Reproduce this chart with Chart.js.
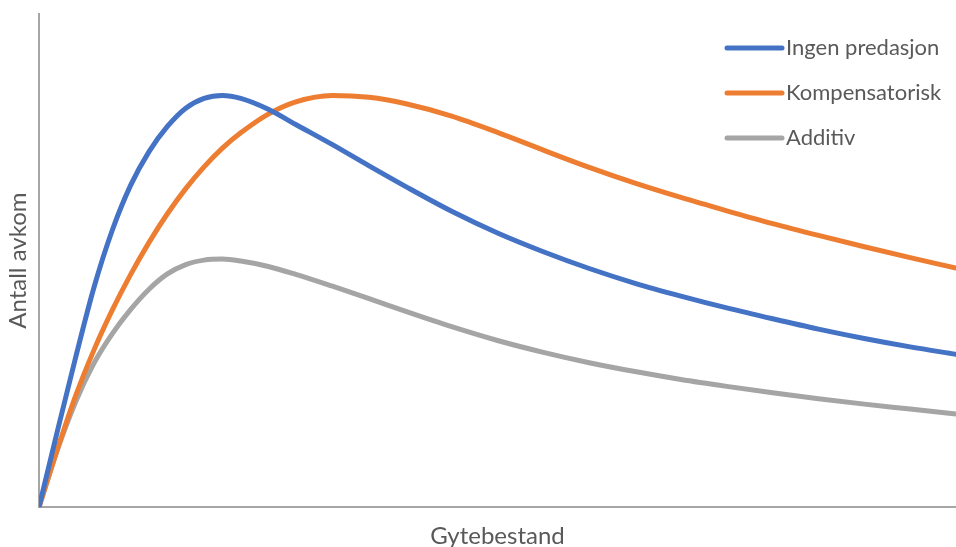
<!DOCTYPE html>
<html>
<head>
<meta charset="utf-8">
<script src="https://cdn.jsdelivr.net/npm/chart.js@4/dist/chart.umd.min.js"></script>
<style>
  html, body { margin: 0; padding: 0; background: #ffffff; }
  #wrap { width: 956px; height: 547px; }
</style>
</head>
<body>
<div id="wrap"><canvas id="chart" width="956" height="547"></canvas></div>
<script>
// Spawning stock (relative units, 0-100)
const gytebestand = [0, 2, 4, 6, 8, 10, 12, 14, 16, 18, 20, 22, 25, 28, 32, 36, 40, 45, 50, 55, 60, 65, 70, 75, 80, 85, 90, 95, 100];

// Recruits per curve (relative units)
const ingenPredasjon = [0, 15.4, 30.4, 44.6, 56.2, 65.3, 72.1, 77.2, 80.9, 82.9, 83.5, 82.9, 80.7, 77.6, 73.5, 69.2, 65.0, 60.0, 55.6, 51.8, 48.4, 45.4, 42.8, 40.4, 38.2, 36.1, 34.2, 32.5, 31.0];
const kompensatorisk = [0, 11.7, 22.6, 31.9, 40.0, 47.2, 53.7, 59.5, 64.6, 69.0, 72.8, 75.9, 79.7, 82.2, 83.5, 83.1, 81.8, 79.3, 76.0, 72.4, 68.9, 65.7, 62.8, 60.1, 57.5, 55.1, 52.8, 50.6, 48.5];
const additiv = [0, 11.6, 21.4, 29.2, 35.2, 40.1, 44.2, 47.3, 49.2, 50.1, 50.3, 49.9, 48.8, 47.2, 44.8, 42.3, 39.7, 36.6, 33.8, 31.4, 29.3, 27.5, 25.9, 24.5, 23.2, 22.0, 20.9, 19.9, 18.9];

const seriesNames = ['Ingen predasjon', 'Kompensatorisk', 'Additiv'];
const seriesColors = ['#4472C4', '#ED7D31', '#A5A5A5'];
const axisTitles = { x: 'Gytebestand', y: 'Antall avkom' };

const textColor = '#595959';
const fontFamily = 'Lato, "Open Sans", "DejaVu Sans", sans-serif';

function toPoints(ys) {
  return gytebestand.map((x, i) => ({ x: x, y: ys[i] }));
}

// Line-sample legend drawn inside the plot, top right
const lineLegend = {
  id: 'lineLegend',
  afterDatasetsDraw(chart) {
    const ctx = chart.ctx;
    const area = chart.chartArea;
    const x0 = area.right - 229;
    const x1 = x0 + 55;
    ctx.save();
    ctx.font = '22px ' + fontFamily;
    ctx.textBaseline = 'middle';
    ctx.textAlign = 'left';
    chart.data.datasets.forEach((ds, i) => {
      const y = area.top + 34 + i * 45;
      ctx.strokeStyle = ds.borderColor;
      ctx.lineWidth = 5;
      ctx.lineCap = 'round';
      ctx.beginPath();
      ctx.moveTo(x0, y);
      ctx.lineTo(x1, y);
      ctx.stroke();
      ctx.fillStyle = textColor;
      ctx.fillText(ds.label, x1 + 4, y);
    });
    ctx.restore();
  }
};

const series = [ingenPredasjon, kompensatorisk, additiv];

new Chart(document.getElementById('chart'), {
  type: 'line',
  data: {
    datasets: series.map((ys, i) => ({
      label: seriesNames[i],
      data: toPoints(ys),
      borderColor: seriesColors[i],
      backgroundColor: seriesColors[i],
      borderWidth: 5,
      borderCapStyle: 'round',
      borderJoinStyle: 'round',
      pointRadius: 0,
      cubicInterpolationMode: 'monotone',
      fill: false
    }))
  },
  options: {
    responsive: false,
    animation: false,
    events: [],
    layout: { padding: { left: 0, right: 0, top: 14, bottom: 0 } },
    plugins: {
      legend: { display: false },
      tooltip: { enabled: false }
    },
    scales: {
      x: {
        type: 'linear',
        min: 0,
        max: 100,
        grid: { display: false, drawTicks: false },
        border: { display: true, color: '#A6A6A6', width: 2 },
        ticks: { display: false },
        title: {
          display: true,
          text: axisTitles.x,
          color: textColor,
          font: { family: fontFamily, size: 24, lineHeight: 1.2 },
          padding: { top: 15, bottom: -4 }
        }
      },
      y: {
        type: 'linear',
        min: 0,
        max: 100,
        grid: { display: false, drawTicks: false },
        border: { display: true, color: '#A6A6A6', width: 2 },
        ticks: { display: false },
        title: {
          display: true,
          text: axisTitles.y,
          color: textColor,
          font: { family: fontFamily, size: 24, lineHeight: 1.2 },
          padding: { top: 3.6, bottom: 6.6 }
        }
      }
    }
  },
  plugins: [lineLegend]
});
</script>
</body>
</html>
